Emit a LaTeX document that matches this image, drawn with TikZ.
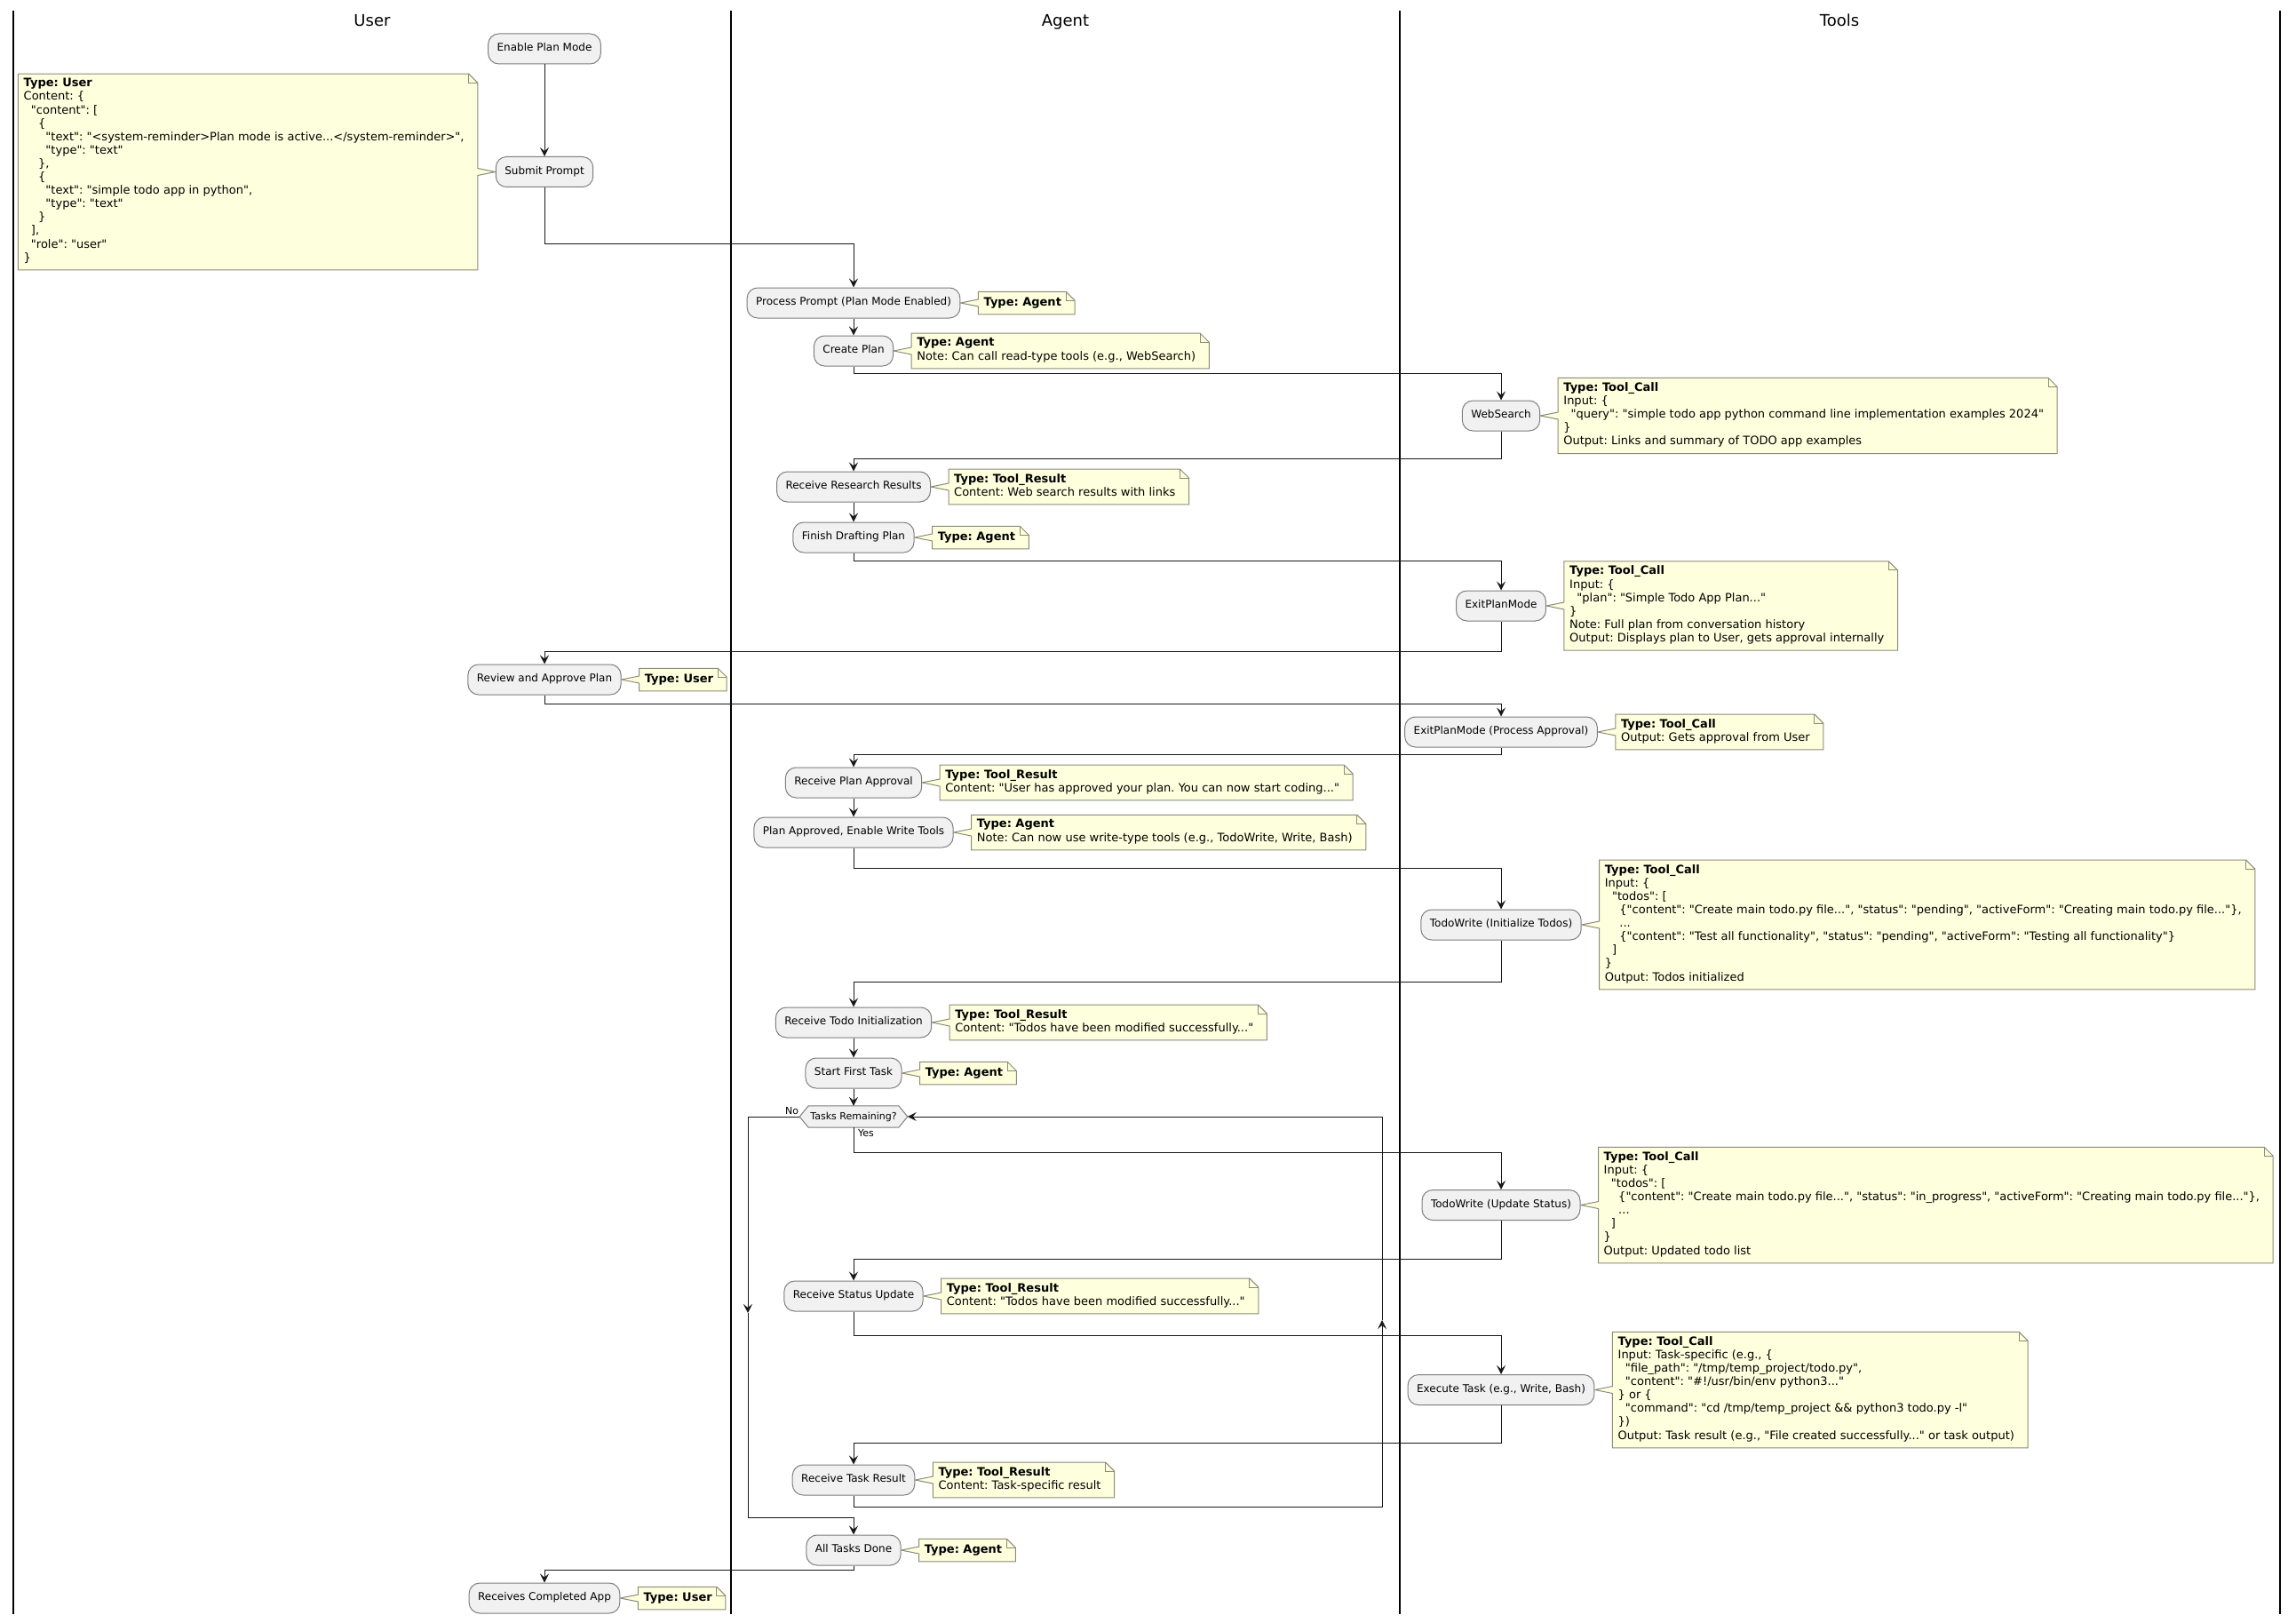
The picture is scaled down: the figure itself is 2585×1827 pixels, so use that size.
\documentclass[tikz,border=0pt]{standalone}
\usepackage{fontspec}
\newfontfamily\dv{DejaVu Sans}
\usetikzlibrary{arrows.meta}
\pgfdeclarelayer{bg}
\pgfsetlayers{bg,main}
\definecolor{actfill}{HTML}{F1F1F1}
\definecolor{actline}{HTML}{181818}
\definecolor{boxline}{HTML}{7E7E7E}
\definecolor{noteline}{HTML}{8C8C78}
\definecolor{notefill}{HTML}{FEFFDD}
\newcommand{\ind}[1]{\hspace*{#1\fontdimen2\font}}
\newcommand{\noteR}[2]{%
  \begin{pgfonlayer}{bg}
  \path[notebg] (#1.north west) -- ([xshift=-1pt]#1.north east) -- ([xshift=9pt,yshift=-10pt]#1.north east) -- ([xshift=9pt]#1.south east) -- (#1.south west) -- ([yshift=-4pt]#1.west) -- (#2.east) -- ([yshift=4pt]#1.west) -- cycle;
  \draw[notebg,fill=none] ([xshift=-1pt]#1.north east) |- ([xshift=9pt,yshift=-10pt]#1.north east);
  \end{pgfonlayer}}
\newcommand{\noteL}[2]{%
  \begin{pgfonlayer}{bg}
  \path[notebg] (#1.north west) -- ([xshift=-1pt]#1.north east) -- ([xshift=9pt,yshift=-10pt]#1.north east) -- ([xshift=9pt,yshift=4pt]#1.east) -- (#2.west) -- ([xshift=9pt,yshift=-4pt]#1.east) -- ([xshift=9pt]#1.south east) -- (#1.south west) -- cycle;
  \draw[notebg,fill=none] ([xshift=-1pt]#1.north east) |- ([xshift=9pt,yshift=-10pt]#1.north east);
  \end{pgfonlayer}}
\tikzset{
  act/.style={draw=boxline, fill=actfill, line width=1pt, rounded corners=12pt, minimum height=34pt, inner xsep=10pt, inner ysep=0pt, font=\dv\fontsize{12}{14}\selectfont, execute at begin node=\strut},
  notetext/.style={inner xsep=6pt, inner ysep=5pt, align=left, font=\dv\fontsize{13}{15.1}\selectfont, execute at begin node=\strut, execute at end node=\strut},
  notebg/.style={fill=notefill, draw=noteline, line width=1pt},
  conn/.style={draw=actline, line width=1pt, -{Stealth[length=10pt,width=10pt,inset=4pt]}},
  lane/.style={draw=black, line width=1.5pt},
  lanetitle/.style={font=\dv\fontsize{18}{21}\selectfont, anchor=base, inner sep=0pt},
  lbl/.style={font=\dv\fontsize{11}{13}\selectfont, inner sep=0pt},
  hexnode/.style={inner xsep=12pt, inner ysep=0pt, minimum height=24pt, font=\dv\fontsize{11}{13}\selectfont},
}
\begin{document}
\frenchspacing
\begin{tikzpicture}[x=1pt,y=-1pt]
\useasboundingbox (0,0) rectangle (2585,1827);
% swimlanes
\draw[lane] (15,12) -- (15,1817);
\draw[lane] (823,12) -- (823,1817);
\draw[lane] (1576,12) -- (1576,1817);
\draw[lane] (2567,12) -- (2567,1817);
\node[lanetitle] (tu) at (419,30) {User};
\node[lanetitle] (ta) at (1199.5,30) {Agent};
\node[lanetitle] (tt) at (2071,30) {Tools};
% bend levels
\coordinate (y1) at (0,275);
\coordinate (y2) at (0,420);
\coordinate (y3) at (0,516);
\coordinate (y4) at (0,631);
\coordinate (y5) at (0,733);
\coordinate (y6) at (0,792);
\coordinate (y7) at (0,849);
\coordinate (y8) at (0,977);
\coordinate (y9) at (0,1105);
\coordinate (y10) at (0,1297);
\coordinate (y11) at (0,1417);
\coordinate (y12) at (0,1503);
\coordinate (y13) at (0,1624);
\coordinate (y16) at (0,1767);
% activities
\node[act] (enable) at (613,55) {Enable Plan Mode};
\node[act] (submit) at (613,193.5) {Submit Prompt};
\node[act] (pp) at (961,341) {Process Prompt (Plan Mode Enabled)};
\node[act] (cp) at (961,395) {Create Plan};
\node[act] (ws) at (1690,468) {WebSearch};
\node[act] (rrr) at (961,548) {Receive Research Results};
\node[act] (fdp) at (961,605) {Finish Drafting Plan};
\node[act] (epm) at (1690,682) {ExitPlanMode};
\node[act] (rap) at (613,765) {Review and Approve Plan};
\node[act] (epa) at (1690,824) {ExitPlanMode (Process Approval)};
\node[act] (rpa) at (961,881) {Receive Plan Approval};
\node[act] (paw) at (961,937) {Plan Approved, Enable Write Tools};
\node[act] (twi) at (1690,1041) {TodoWrite (Initialize Todos)};
\node[act] (rti) at (961,1151) {Receive Todo Initialization};
\node[act] (sft) at (961,1208) {Start First Task};
\node[hexnode] (dec) at (961,1257) {Tasks Remaining?};
\node[act] (twu) at (1690,1356.5) {TodoWrite (Update Status)};
\node[act] (rsu) at (961,1459) {Receive Status Update};
\node[act] (ext) at (1690,1564.5) {Execute Task (e.g., Write, Bash)};
\node[act] (rtr) at (961,1666) {Receive Task Result};
\node[act] (atd) at (961,1745) {All Tasks Done};
\node[act] (rca) at (613,1799) {Receives Completed App};
\begin{pgfonlayer}{bg}
\path[draw=boxline, fill=actfill, line width=1pt] (dec.west) -- ([xshift=10pt]dec.north west) -- ([xshift=-10pt]dec.north east) -- (dec.east) -- ([xshift=-10pt]dec.south east) -- ([xshift=10pt]dec.south west) -- cycle;
\end{pgfonlayer}
\node[lbl, anchor=south east] (lno) at ([xshift=-1pt,yshift=2pt]dec.west) {No};
\node[lbl, anchor=north west] (lyes) at ([xshift=5pt,yshift=-2pt]dec.south) {Yes};
% notes
\node[notetext, anchor=east] (nsubmit) at ([xshift=-29pt]submit.west) {\textbf{Type: User}\\
Content: \{\\
\ind{2}"content": [\\
\ind{4}\{\\
\ind{6}"text": "<system-reminder>Plan mode is active...</system-reminder>",\\
\ind{6}"type": "text"\\
\ind{4}\},\\
\ind{4}\{\\
\ind{6}"text": "simple todo app in python",\\
\ind{6}"type": "text"\\
\ind{4}\}\\
\ind{2}],\\
\ind{2}"role": "user"\\
\}};
\noteL{nsubmit}{submit}
\node[notetext, anchor=west] (npp) at ([xshift=20pt]pp.east) {\textbf{Type: Agent}};
\noteR{npp}{pp}
\node[notetext, anchor=west] (ncp) at ([xshift=20pt]cp.east) {\textbf{Type: Agent}\\Note: Can call read-type tools (e.g., WebSearch)};
\noteR{ncp}{cp}
\node[notetext, anchor=west] (nws) at ([xshift=20pt]ws.east) {\textbf{Type: Tool\_Call}\\
Input: \{\\
\ind{2}"query": "simple todo app python command line implementation examples 2024"\\
\}\\
Output: Links and summary of TODO app examples};
\noteR{nws}{ws}
\node[notetext, anchor=west] (nrrr) at ([xshift=20pt]rrr.east) {\textbf{Type: Tool\_Result}\\Content: Web search results with links};
\noteR{nrrr}{rrr}
\node[notetext, anchor=west] (nfdp) at ([xshift=20pt]fdp.east) {\textbf{Type: Agent}};
\noteR{nfdp}{fdp}
\node[notetext, anchor=west] (nepm) at ([xshift=20pt]epm.east) {\textbf{Type: Tool\_Call}\\
Input: \{\\
\ind{2}"plan": "Simple Todo App Plan..."\\
\}\\
Note: Full plan from conversation history\\
Output: Displays plan to User, gets approval internally};
\noteR{nepm}{epm}
\node[notetext, anchor=west] (nrap) at ([xshift=20pt]rap.east) {\textbf{Type: User}};
\noteR{nrap}{rap}
\node[notetext, anchor=west] (nepa) at ([xshift=20pt]epa.east) {\textbf{Type: Tool\_Call}\\Output: Gets approval from User};
\noteR{nepa}{epa}
\node[notetext, anchor=west] (nrpa) at ([xshift=20pt]rpa.east) {\textbf{Type: Tool\_Result}\\Content: "User has approved your plan. You can now start coding..."};
\noteR{nrpa}{rpa}
\node[notetext, anchor=west] (npaw) at ([xshift=20pt]paw.east) {\textbf{Type: Agent}\\Note: Can now use write-type tools (e.g., TodoWrite, Write, Bash)};
\noteR{npaw}{paw}
\node[notetext, anchor=west] (ntwi) at ([xshift=20pt]twi.east) {\textbf{Type: Tool\_Call}\\
Input: \{\\
\ind{2}"todos": [\\
\ind{4}\{"content": "Create main todo.py file...", "status": "pending", "activeForm": "Creating main todo.py file..."\},\\
\ind{4}...\\
\ind{4}\{"content": "Test all functionality", "status": "pending", "activeForm": "Testing all functionality"\}\\
\ind{2}]\\
\}\\
Output: Todos initialized};
\noteR{ntwi}{twi}
\node[notetext, anchor=west] (nrti) at ([xshift=20pt]rti.east) {\textbf{Type: Tool\_Result}\\Content: "Todos have been modified successfully..."};
\noteR{nrti}{rti}
\node[notetext, anchor=west] (nsft) at ([xshift=20pt]sft.east) {\textbf{Type: Agent}};
\noteR{nsft}{sft}
\node[notetext, anchor=west] (ntwu) at ([xshift=20pt]twu.east) {\textbf{Type: Tool\_Call}\\
Input: \{\\
\ind{2}"todos": [\\
\ind{4}\{"content": "Create main todo.py file...", "status": "in\_progress", "activeForm": "Creating main todo.py file..."\},\\
\ind{4}...\\
\ind{2}]\\
\}\\
Output: Updated todo list};
\noteR{ntwu}{twu}
\node[notetext, anchor=west] (nrsu) at ([xshift=20pt]rsu.east) {\textbf{Type: Tool\_Result}\\Content: "Todos have been modified successfully..."};
\noteR{nrsu}{rsu}
\node[notetext, anchor=west] (next) at ([xshift=20pt]ext.east) {\textbf{Type: Tool\_Call}\\
Input: Task-specific (e.g., \{\\
\ind{2}"file\_path": "/tmp/temp\_project/todo.py",\\
\ind{2}"content": "\#!/usr/bin/env python3..."\\
\} or \{\\
\ind{2}"command": "cd /tmp/temp\_project \&\& python3 todo.py -l"\\
\})\\
Output: Task result (e.g., "File created successfully..." or task output)};
\noteR{next}{ext}
\node[notetext, anchor=west] (nrtr) at ([xshift=20pt]rtr.east) {\textbf{Type: Tool\_Result}\\Content: Task-specific result};
\noteR{nrtr}{rtr}
\node[notetext, anchor=west] (natd) at ([xshift=20pt]atd.east) {\textbf{Type: Agent}};
\noteR{natd}{atd}
\node[notetext, anchor=west] (nrca) at ([xshift=20pt]rca.east) {\textbf{Type: User}};
\noteR{nrca}{rca}
% connectors
\draw[conn] (enable) -- (submit);
\draw[conn] (submit.south) -- (submit.south |- y1) -| (pp.north);
\draw[conn] (pp) -- (cp);
\draw[conn] (cp.south) -- (cp.south |- y2) -| (ws.north);
\draw[conn] (ws.south) -- (ws.south |- y3) -| (rrr.north);
\draw[conn] (rrr) -- (fdp);
\draw[conn] (fdp.south) -- (fdp.south |- y4) -| (epm.north);
\draw[conn] (epm.south) -- (epm.south |- y5) -| (rap.north);
\draw[conn] (rap.south) -- (rap.south |- y6) -| (epa.north);
\draw[conn] (epa.south) -- (epa.south |- y7) -| (rpa.north);
\draw[conn] (rpa) -- (paw);
\draw[conn] (paw.south) -- (paw.south |- y8) -| (twi.north);
\draw[conn] (twi.south) -- (twi.south |- y9) -| (rti.north);
\draw[conn] (rti) -- (sft);
\draw[conn] (sft) -- (dec);
\draw[conn] (dec.south) -- (dec.south |- y10) -| (twu.north);
\draw[conn] (twu.south) -- (twu.south |- y11) -| (rsu.north);
\draw[conn] (rsu.south) -- (rsu.south |- y12) -| (ext.north);
\draw[conn] (ext.south) -- (ext.south |- y13) -| (rtr.north);
% loop back
\coordinate (lb) at (1556,1696);
\coordinate (lm) at (1556,1486);
\draw[conn] (rtr.south) |- (lb) -- (lm);
\draw[conn] (lm) |- (dec.east);
% no branch
\coordinate (nt) at (842,1257);
\coordinate (nm) at (842,1478);
\coordinate (nb) at (842,1708);
\draw[conn] (dec.west) -- (nt) -- (nm);
\draw[conn] (nm) -- (nb) -| (atd.north);
\draw[conn] (atd.south) -- (atd.south |- y16) -| (rca.north);
\end{tikzpicture}
\end{document}
